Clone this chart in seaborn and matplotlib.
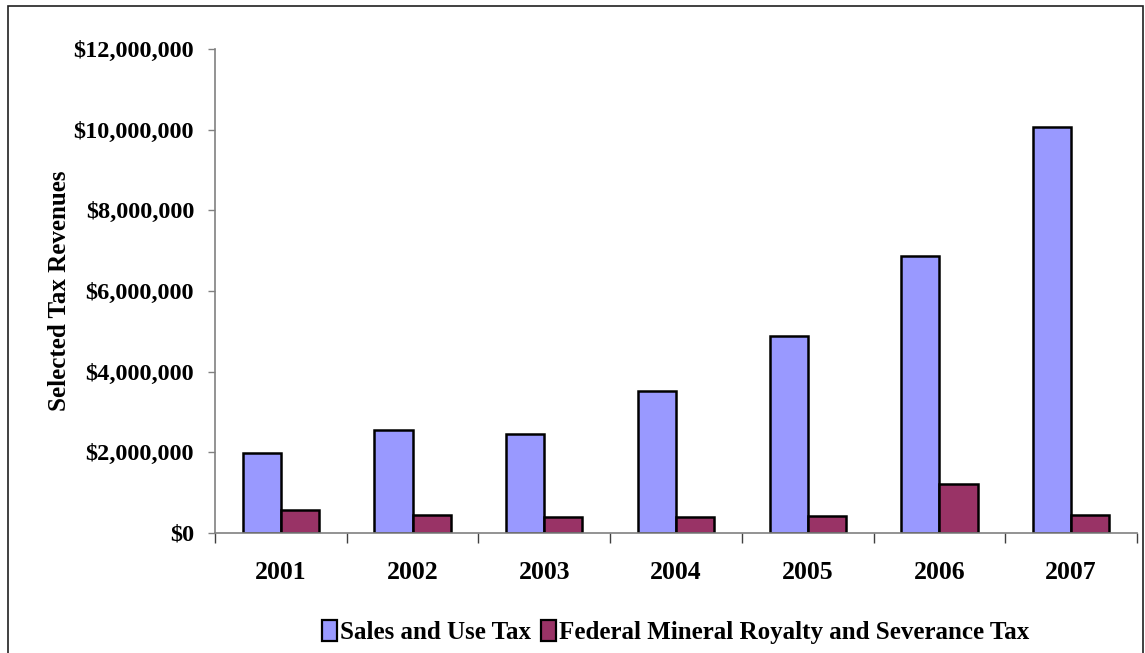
import matplotlib
matplotlib.use("Agg")
import matplotlib.pyplot as plt
import seaborn as sns
import pandas as pd
from matplotlib.patches import Rectangle
from matplotlib.ticker import FuncFormatter

years = ["2001", "2002", "2003", "2004", "2005", "2006", "2007"]
sales_use_tax = [1980000, 2550000, 2450000, 3520000, 4890000, 6870000, 10070000]
mineral_tax = [570000, 450000, 400000, 400000, 420000, 1210000, 440000]
series_names = ["Sales and Use Tax", "Federal Mineral Royalty and Severance Tax"]
colors = ["#9999FF", "#993366"]

df = pd.DataFrame({
    "Year": years * 2,
    "Value": sales_use_tax + mineral_tax,
    "Series": [series_names[0]] * len(years) + [series_names[1]] * len(years),
})

sns.set_style("white")
plt.rcParams['font.family'] = ['Liberation Serif', 'DejaVu Serif']
plt.rcParams['font.weight'] = 'bold'
plt.rcParams['text.color'] = 'black'
plt.rcParams['xtick.color'] = 'black'
plt.rcParams['ytick.color'] = 'black'
plt.rcParams['axes.labelcolor'] = 'black'

fig = plt.figure(figsize=(11.45, 6.53), dpi=100)
ax = fig.add_axes([215/1145, 1-533/653, (1137-215)/1145, (533-49)/653])

sns.barplot(data=df, x="Year", y="Value", hue="Series", order=years,
            hue_order=series_names, palette=colors, width=0.58, gap=0,
            edgecolor="black", linewidth=1.8, saturation=1, ax=ax, legend=True)

ax.set_ylim(0, 12000000)
ax.set_xlim(-0.5, len(years) - 0.5)
ax.set_yticks(range(0, 12000001, 2000000))
ax.yaxis.set_major_formatter(FuncFormatter(lambda v, p: "${:,.0f}".format(v)))
ax.tick_params(axis='y', left=True, length=5, width=1, color='#808080',
               labelsize=17.5, labelcolor='black', pad=10)

ax.set_xticks([i - 0.5 for i in range(len(years) + 1)])
ax.set_xticklabels([])
ax.set_xticks(range(len(years)), minor=True)
ax.set_xticklabels(years, minor=True, fontsize=18.5, fontweight='bold')
ax.tick_params(axis='x', which='major', bottom=True, length=7, width=1, color='#404040')
ax.tick_params(axis='x', which='minor', bottom=False, length=0, pad=20, labelcolor='black')
for lab in ax.get_yticklabels():
    lab.set_fontweight('bold')

ax.set_xlabel("")
ax.set_ylabel("Selected Tax Revenues", fontsize=18, fontweight='bold', labelpad=2, color='black')

for s in ["top", "right"]:
    ax.spines[s].set_visible(False)
for s in ["left", "bottom"]:
    ax.spines[s].set_color('#808080')
    ax.spines[s].set_linewidth(1.2)

leg = ax.legend(loc='center', bbox_to_anchor=(676/1145, 1-632/653),
                bbox_transform=fig.transFigure, ncol=2, frameon=False,
                prop={'family': 'Liberation Serif', 'weight': 'bold', 'size': 18},
                handlelength=0.6, handleheight=0.9, handletextpad=0.12,
                columnspacing=0.4, borderpad=0)
for t in leg.get_texts():
    t.set_color('black')
for h in leg.legend_handles:
    h.set_edgecolor('black')
    h.set_linewidth(1.6)

fig.patches.append(Rectangle((8/1145, -0.02), (1143-8)/1145, 1-6/653+0.02,
                             transform=fig.transFigure, fill=False,
                             edgecolor='#202020', linewidth=1.2))

fig.savefig("out.png", dpi=100)
